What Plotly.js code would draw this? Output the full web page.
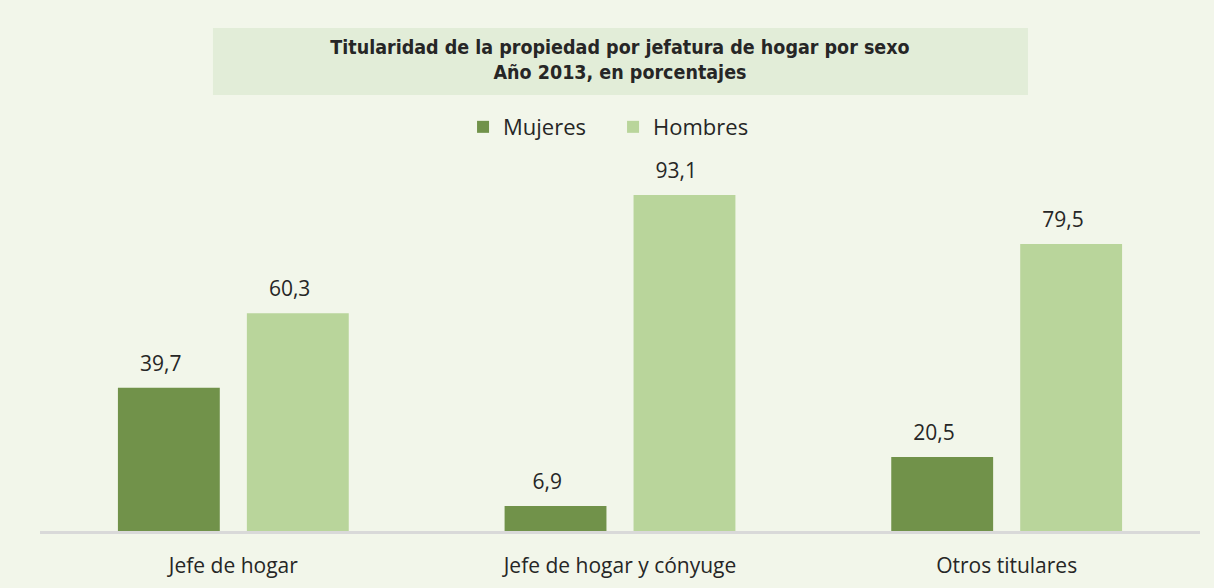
<!DOCTYPE html>
<html>
<head>
<meta charset="utf-8">
<script src="https://cdn.plot.ly/plotly-3.0.1.min.js"></script>
<style>
html,body{margin:0;padding:0;background:#F2F6EA;}
#chart{width:1214px;height:588px;}
</style>
</head>
<body>
<div id="chart"></div>
<script>
const categories = ['Jefe de hogar', 'Jefe de hogar y cónyuge', 'Otros titulares'];
const mujeres = [39.7, 6.9, 20.5];
const hombres = [60.3, 93.1, 79.5];
const seriesNames = ['Mujeres', 'Hombres'];
const titleLines = ['Titularidad de la propiedad por jefatura de hogar por sexo', 'Año 2013, en porcentajes'];

const colMuj = '#71924A';
const colHom = '#B9D59B';
const txt = '#262626';
const baseFont = 'Open Sans, Lato, sans-serif';

const labelTpl = '%{y:.1f}\u00a0\u00a0\u00a0';

const traces = [
  {type:'bar', name:seriesNames[0], x:categories, y:mujeres, marker:{color:colMuj}, hoverinfo:'skip'},
  {type:'bar', name:seriesNames[1], x:categories, y:hombres, marker:{color:colHom}, hoverinfo:'skip'},
  {type:'scatter', mode:'markers+text', x:categories, y:mujeres, texttemplate:labelTpl, textposition:'top center',
   marker:{size:17, opacity:0}, textfont:{size:21, color:txt, family:baseFont}, showlegend:false, hoverinfo:'skip', cliponaxis:false},
  {type:'scatter', mode:'markers+text', x:categories, y:hombres, texttemplate:labelTpl, textposition:'top center',
   marker:{size:17, opacity:0}, textfont:{size:21, color:txt, family:baseFont}, showlegend:false, hoverinfo:'skip', cliponaxis:false}
];

const layout = {
  width:1214, height:588,
  paper_bgcolor:'#F2F6EA', plot_bgcolor:'#F2F6EA',
  margin:{l:40, r:14, t:170, b:57},
  separators:',.',
  barmode:'group', bargap:0.333, bargroupgap:0.21,
  scattermode:'group', scattergap:0.333,
  font:{family:baseFont, color:txt, size:21},
  title:{text:titleLines.join('<br>'), font:{family:'Liberation Sans Narrow, DejaVu Sans Condensed, sans-serif', size:19.5, weight:'bold', color:txt},
         xref:'paper', x:0.5, xanchor:'center', yref:'container', y:0.909, yanchor:'middle'},
  shapes:[{type:'rect', xref:'paper', yref:'paper', x0:0.1491, x1:0.8517, y0:1.2078, y1:1.3934,
           fillcolor:'#E2EDD8', line:{width:0}, layer:'below'}],
  legend:{orientation:'h', x:0.494, xanchor:'center', y:1.119, yanchor:'middle', entrywidth:105, entrywidthmode:'pixels',
          font:{size:22, color:txt, family:baseFont}, bgcolor:'rgba(0,0,0,0)', itemwidth:30, traceorder:'normal'},
  xaxis:{type:'category', showline:true, linecolor:'#D9D9D9', linewidth:3, ticks:'', showgrid:false, zeroline:false,
         tickfont:{size:21, color:txt, family:baseFont}, ticklabelstandoff:14, fixedrange:true},
  yaxis:{range:[0,100], visible:false, showgrid:false, zeroline:false, fixedrange:true},
  showlegend:true
};

Plotly.newPlot('chart', traces, layout, {displayModeBar:false, staticPlot:true});
</script>
</body>
</html>
